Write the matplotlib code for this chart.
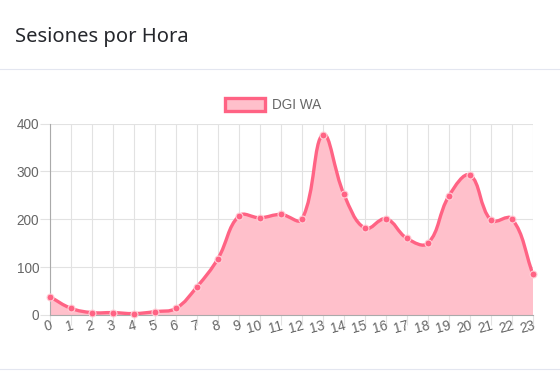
import matplotlib
matplotlib.use("Agg")
import matplotlib.pyplot as plt
import numpy as np
from matplotlib.path import Path
from matplotlib.patches import PathPatch, Patch
from matplotlib.lines import Line2D

hours = list(range(24))
hour_labels = [str(h) for h in hours]
sessions = [38, 14, 5, 5, 3, 7, 14, 59, 118, 207, 203, 210,
            200, 377, 252, 181, 201, 160, 150, 249, 292, 198, 201, 85]

title = "Sesiones por Hora"
series_name = "DGI WA"

line_c = "#ff6384"
fill_c = "#ffc0cb"
grid_c = "#e2e2e2"
text_c = "#666666"

W, H = 560, 374
fig = plt.figure(figsize=(W / 100, H / 100), dpi=100)
fig.patch.set_facecolor("white")

# header / footer of the card
fig.text(15 / W, 1 - 42 / H, title, fontsize=14.5, color="#25272c",
         family="Noto Sans", va="baseline", ha="left")
fig.add_artist(Line2D([0, 1], [1 - 68.5 / H] * 2, color="#e3e6f0", lw=0.8))
fig.add_artist(Line2D([0, 1], [1 - 368.5 / H] * 2, color="#e3e6f0", lw=0.8))

ax = fig.add_axes([50 / W, 1 - 315 / H, (533 - 50) / W, (315 - 123.5) / H])
ax.set_xlim(0, 23)
ax.set_ylim(0, 400)


def chartjs_curve(ax, xs, ys, tension=0.4):
    # same bezier control points Chart.js uses, computed in pixel space
    pts = ax.transData.transform(np.column_stack([xs, ys]))
    n = len(pts)
    verts = [pts[0]]
    codes = [Path.MOVETO]
    cps = []
    for i in range(n):
        prev = pts[max(i - 1, 0)]
        cur = pts[i]
        nxt = pts[min(i + 1, n - 1)]
        d01 = np.hypot(*(cur - prev))
        d12 = np.hypot(*(nxt - cur))
        tot = d01 + d12
        s01 = d01 / tot if tot else 0
        s12 = d12 / tot if tot else 0
        fa = tension * s01
        fb = tension * s12
        cps.append((cur - fa * (nxt - prev), cur + fb * (nxt - prev)))
    for i in range(1, n):
        verts += [cps[i - 1][1], cps[i][0], pts[i]]
        codes += [Path.CURVE4] * 3
    inv = ax.transData.inverted()
    return inv.transform(np.array(verts)), codes


verts, codes = chartjs_curve(ax, hours, sessions)
line_path = Path(verts, codes)
fill_verts = np.vstack([verts, [[hours[-1], 0], [hours[0], 0], verts[0]]])
fill_codes = codes + [Path.LINETO, Path.LINETO, Path.CLOSEPOLY]
ax.add_patch(PathPatch(Path(fill_verts, fill_codes), facecolor=fill_c,
                       edgecolor="none", zorder=2))
ax.add_patch(PathPatch(line_path, facecolor="none", edgecolor=line_c,
                       lw=2.4, zorder=3, capstyle="round"))
ax.plot(hours, sessions, ls="none", marker="o", ms=5, mfc=line_c,
        mec="#ffd0d8", mew=0.8, zorder=4, clip_on=False)

ax.set_xticks(hours)
ax.set_xticklabels(hour_labels)
ax.set_yticks([0, 100, 200, 300, 400])
ax.grid(True, color=grid_c, lw=0.8, zorder=0)
ax.set_axisbelow(True)
for s in ["top", "right"]:
    ax.spines[s].set_visible(False)
for s in ["left", "bottom"]:
    ax.spines[s].set_color("#aaaaaa")
    ax.spines[s].set_linewidth(0.8)

ax.tick_params(axis="x", length=7.2, width=0.8, color=grid_c, pad=-4.5,
               labelsize=9.8, labelcolor=text_c)
ax.tick_params(axis="y", length=7.2, width=0.8, color=grid_c, pad=0.5,
               labelsize=9.8, labelcolor=text_c)
for lab in ax.get_xticklabels():
    lab.set_rotation(15)
    lab.set_ha("right")
    lab.set_rotation_mode("anchor")
    lab.set_family("Liberation Sans")
for lab in ax.get_yticklabels():
    lab.set_family("Liberation Sans")

handle = Patch(facecolor=fill_c, edgecolor=line_c, lw=2.4, label=series_name)
fig.legend(handles=[handle], loc="center", bbox_to_anchor=(273 / W, 1 - 105 / H),
           frameon=False, handlelength=3.0, handleheight=1.1, handletextpad=0.5,
           prop={"family": "Liberation Sans", "size": 9.8}, labelcolor=text_c,
           borderpad=0, borderaxespad=0)

fig.savefig("out.png", dpi=100, facecolor="white")
